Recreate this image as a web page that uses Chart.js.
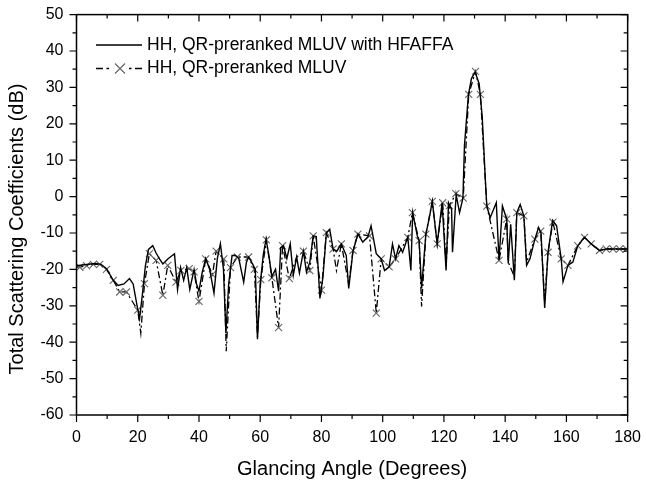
<!DOCTYPE html>
<html>
<head>
<meta charset="utf-8">
<script src="https://cdn.jsdelivr.net/npm/chart.js@4.4.1/dist/chart.umd.min.js"></script>
<style>
    html, body { margin: 0; padding: 0; background: #fff; }
    canvas { display: block; }
</style>
</head>
<body>
<canvas id="scatter" width="646" height="483"></canvas>
<script>
// solid trace: HH, QR-preranked MLUV with HFAFFA
const solidAngles = [0, 2, 4, 6, 8, 9.8, 12, 13.6, 15.5, 17.3, 18.5, 20, 20.6, 21.5, 22.5, 23.5, 24.9, 26, 27, 28.2,
    30, 32, 33, 34, 35, 36, 37, 38.4, 39.2, 40, 41, 42.2, 43.5, 44.9, 46, 47, 48, 48.8, 49.7, 50.8,
    51.9, 53, 54.6, 55.5, 56.2, 57.5, 58.4, 59.1, 60, 61, 61.9, 62.8, 63.8, 65, 66, 66.7, 67.6, 68.7, 69.8, 70.8,
    71.9, 72.8, 74.1, 75.1, 76.2, 77.3, 78.3, 79.5, 80.5, 81.6, 82.7, 83.8, 85, 86.5, 88.1, 88.9, 90.3, 91.9, 93.5, 95.2,
    96.2, 97.9, 99.5, 100.6, 102.1, 103.2, 104.2, 105.3, 106.5, 108.2, 109.2, 109.8, 111.3, 111.9, 112.7, 114.1, 115.2, 116.2, 117.8, 119.4,
    120.7, 121.5, 122.5, 122.8, 124, 125.1, 126.2, 126.7, 128, 129, 130.2, 131.5, 132.5, 133.5, 134, 135.1, 137.1, 138, 139.1, 140.5,
    141, 141.8, 143, 143.8, 144.9, 146.1, 147, 148.1, 149.7, 150.9, 151.7, 152.9, 154, 155.5, 156.8, 158.3, 158.9, 160.5, 162.1, 163.7,
    165.9, 168.1, 170.8, 173, 176, 180];
const solidValues = [-19, -18.8, -18.6, -18.4, -18.6, -19.8, -23, -24.4, -24, -22.5, -24, -31, -33.5, -27, -19, -14.5, -13.5, -15.5, -17, -18.5,
    -17, -15.7, -25.5, -19.5, -23, -19.5, -25.5, -20, -24, -26, -21, -17, -20, -26.5, -17, -13, -20, -37.5, -24, -16.2,
    -16.2, -17, -23.5, -18, -16.6, -18.5, -20, -39.2, -24, -16, -11.7, -16, -22, -20, -26, -14, -13.5, -17, -13, -21.6,
    -16.6, -21, -15, -20.7, -18, -10.8, -11, -28, -22, -10, -9, -14.4, -15, -13, -16.2, -25.2, -15, -10.3, -12.5, -11,
    -8, -15.7, -17.1, -20.3, -19.3, -13, -17.1, -13.5, -15.3, -11.2, -20.3, -4.4, -10.8, -12.1, -25.2, -10.3, -6, -1.3, -13, -1.7,
    -20.3, -1.7, -3.5, -15.3, 0.5, -4.4, -0.4, 14, 28, 32.5, 34.2, 31, 22, 5, -2.6, -5.8, -1.7, -17.5, -2.6, -6.2,
    -18.4, -7.6, -23, -4.4, -2.2, -5.3, -18.9, -17.1, -11.7, -8.5, -10, -30.6, -15.3, -6.5, -8, -17.1, -23.4, -18.9, -18, -13.5,
    -11.2, -13, -14.8, -14.4, -14.4, -14.4];

// dash-dot trace with symbols: HH, QR-preranked MLUV
const dashAngles = [0, 1.1, 3.3, 5.5, 7.6, 9.8, 12, 14.1, 16.3, 20, 21, 22.2, 23.8, 26, 28.2, 29.8, 32.5, 34.1, 36.8, 38.4,
    40, 42.2, 44.4, 45.6, 48.1, 48.9, 50.3, 52.5, 56.2, 58.1, 59.1, 60.2, 62, 63.8, 66, 67.3, 69.5, 71.9, 74.1, 76.2,
    77.3, 80, 81.6, 83.8, 84.9, 86.5, 88.9, 90.3, 91.9, 95.7, 97.9, 99.5, 102.1, 104.2, 108.2, 109.7, 111.9, 112.7, 114.1, 116.2,
    117.8, 119.6, 120.7, 121.8, 123.9, 126.3, 128.1, 130.3, 131.9, 134, 138, 140.5, 141, 143, 143.8, 146.1, 147, 149.7, 151.6, 152.9,
    154, 155.6, 158.3, 160.5, 163.7, 165.9, 168.1, 170.8, 173, 175.2, 177.4, 179.6];
const dashValues = [-19.3, -19.4, -19, -18.6, -18.6, -20, -23, -26.2, -26.2, -31.2, -37.5, -23.9, -15.7, -17.5, -27.1, -18.9, -23.5, -20.3, -19.8, -20.7,
    -28.8, -17.1, -21.4, -15, -17.1, -42.5, -19.5, -16.6, -16.6, -20, -38.5, -22.8, -11.9, -22.3, -36, -13.5, -22.5, -16.6, -15, -20.3,
    -10.8, -25.7, -9.9, -14.4, -20.3, -13, -24, -14.8, -10.3, -10.8, -32, -17.1, -19.3, -17.1, -11.2, -4.4, -12.1, -30.2, -10.3, -1.3,
    -13, -1.7, -19, -2.5, 0.8, -0.4, 28.1, 34.4, 28.1, -2.6, -17.5, -6.2, -18, -22, -4.4, -5.3, -18, -11.7, -9.5, -29,
    -15.3, -7, -17.1, -18.9, -13.5, -11.2, -13, -14.8, -14.4, -14.4, -14.4, -14.4];
// samples of the dash-dot trace drawn without a symbol
const dashBare = [0, 21, 48.9, 59.1, 71.9, 84.9, 88.9, 112.7, 120.7, 141, 143, 147, 152.9];

const seriesNames = ['HH, QR-preranked MLUV with HFAFFA', 'HH, QR-preranked MLUV'];
const xTitle = 'Glancing Angle (Degrees)';
const yTitle = 'Total Scattering Coefficients (dB)';

const FONT = '"Liberation Sans", Arial, sans-serif';
const MARK = '#666';

// frame, major/minor ticks, y title and legend
const framePlugin = {
    id: 'frame',
    afterDraw(chart) {
        const { ctx, chartArea: a, scales: { x, y } } = chart;
        ctx.save();
        ctx.strokeStyle = '#000';
        ctx.lineWidth = 1.5;
        ctx.strokeRect(a.left, a.top, a.right - a.left, a.bottom - a.top);

        ctx.lineWidth = 1.2;
        ctx.beginPath();
        for (let v = 0; v <= 180; v += 10) {
            const px = x.getPixelForValue(v);
            const len = v % 20 === 0 ? 7 : 4;
            ctx.moveTo(px, a.bottom); ctx.lineTo(px, a.bottom + len);
            ctx.moveTo(px, a.top); ctx.lineTo(px, a.top + len);
        }
        for (let v = -60; v <= 50; v += 5) {
            const py = y.getPixelForValue(v);
            const len = v % 10 === 0 ? 7 : 4;
            ctx.moveTo(a.left, py); ctx.lineTo(a.left - len, py);
            ctx.moveTo(a.right, py); ctx.lineTo(a.right - len, py);
        }
        ctx.stroke();

        // y axis title
        ctx.fillStyle = '#000';
        ctx.font = '20px ' + FONT;
        ctx.textAlign = 'center';
        ctx.textBaseline = 'middle';
        ctx.translate(17, 229);
        ctx.rotate(-Math.PI / 2);
        ctx.fillText(yTitle, 0, 0);
        ctx.restore();

        // legend
        ctx.save();
        ctx.strokeStyle = '#000';
        ctx.lineWidth = 1.3;
        ctx.beginPath();
        ctx.moveTo(96, 45); ctx.lineTo(142, 45);
        ctx.moveTo(96, 68.5); ctx.lineTo(103, 68.5);
        ctx.moveTo(106.5, 68.5); ctx.lineTo(109, 68.5);
        ctx.moveTo(129, 68.5); ctx.lineTo(131.5, 68.5);
        ctx.moveTo(135, 68.5); ctx.lineTo(142, 68.5);
        ctx.stroke();
        ctx.strokeStyle = MARK;
        ctx.lineWidth = 1.1;
        ctx.beginPath();
        ctx.moveTo(115, 63.5); ctx.lineTo(125, 73.5);
        ctx.moveTo(125, 63.5); ctx.lineTo(115, 73.5);
        ctx.stroke();
        ctx.fillStyle = '#000';
        ctx.font = '17.5px ' + FONT;
        ctx.textBaseline = 'middle';
        ctx.fillText(seriesNames[0], 147, 45);
        ctx.fillText(seriesNames[1], 147, 68.5);
        ctx.restore();
    }
};

const ctx = document.getElementById('scatter');

new Chart(ctx, {
    type: 'line',
    data: {
        datasets: [{
            label: seriesNames[0],
            data: solidAngles.map((a, i) => ({ x: a, y: solidValues[i] })),
            borderColor: '#000',
            borderWidth: 1.4,
            pointRadius: 0,
            tension: 0,
            fill: false
        }, {
            label: seriesNames[1],
            data: dashAngles.map((a, i) => ({ x: a, y: dashValues[i] })),
            borderColor: '#000',
            borderWidth: 1.3,
            borderDash: [7, 3, 2, 3],
            pointStyle: 'crossRot',
            pointRadius: c => dashBare.includes(dashAngles[c.dataIndex]) ? 0 : 5,
            pointBorderColor: MARK,
            pointBorderWidth: 1.1,
            tension: 0,
            fill: false
        }]
    },
    options: {
        responsive: false,
        animation: false,
        devicePixelRatio: 1,
        layout: { padding: { left: 0, right: 14, top: 9, bottom: 0 } },
        plugins: {
            legend: { display: false },
            tooltip: { enabled: false }
        },
        scales: {
            x: {
                type: 'linear',
                min: 0,
                max: 180,
                grid: { display: false, drawTicks: true, tickLength: 8 },
                border: { display: false },
                ticks: { stepSize: 20, color: '#000', padding: 5, font: { family: FONT, size: 16 } },
                title: { display: true, text: xTitle, color: '#000', padding: { top: 0, bottom: 2 }, font: { family: FONT, size: 20 } },
                afterFit: scale => { scale.height = 68; }
            },
            y: {
                min: -60,
                max: 50,
                grid: { display: false, drawTicks: true, tickLength: 8 },
                border: { display: false },
                ticks: { stepSize: 10, color: '#000', padding: 5, font: { family: FONT, size: 16 } },
                afterFit: scale => { scale.width = 76.5; }
            }
        }
    },
    plugins: [framePlugin]
});
</script>
</body>
</html>
